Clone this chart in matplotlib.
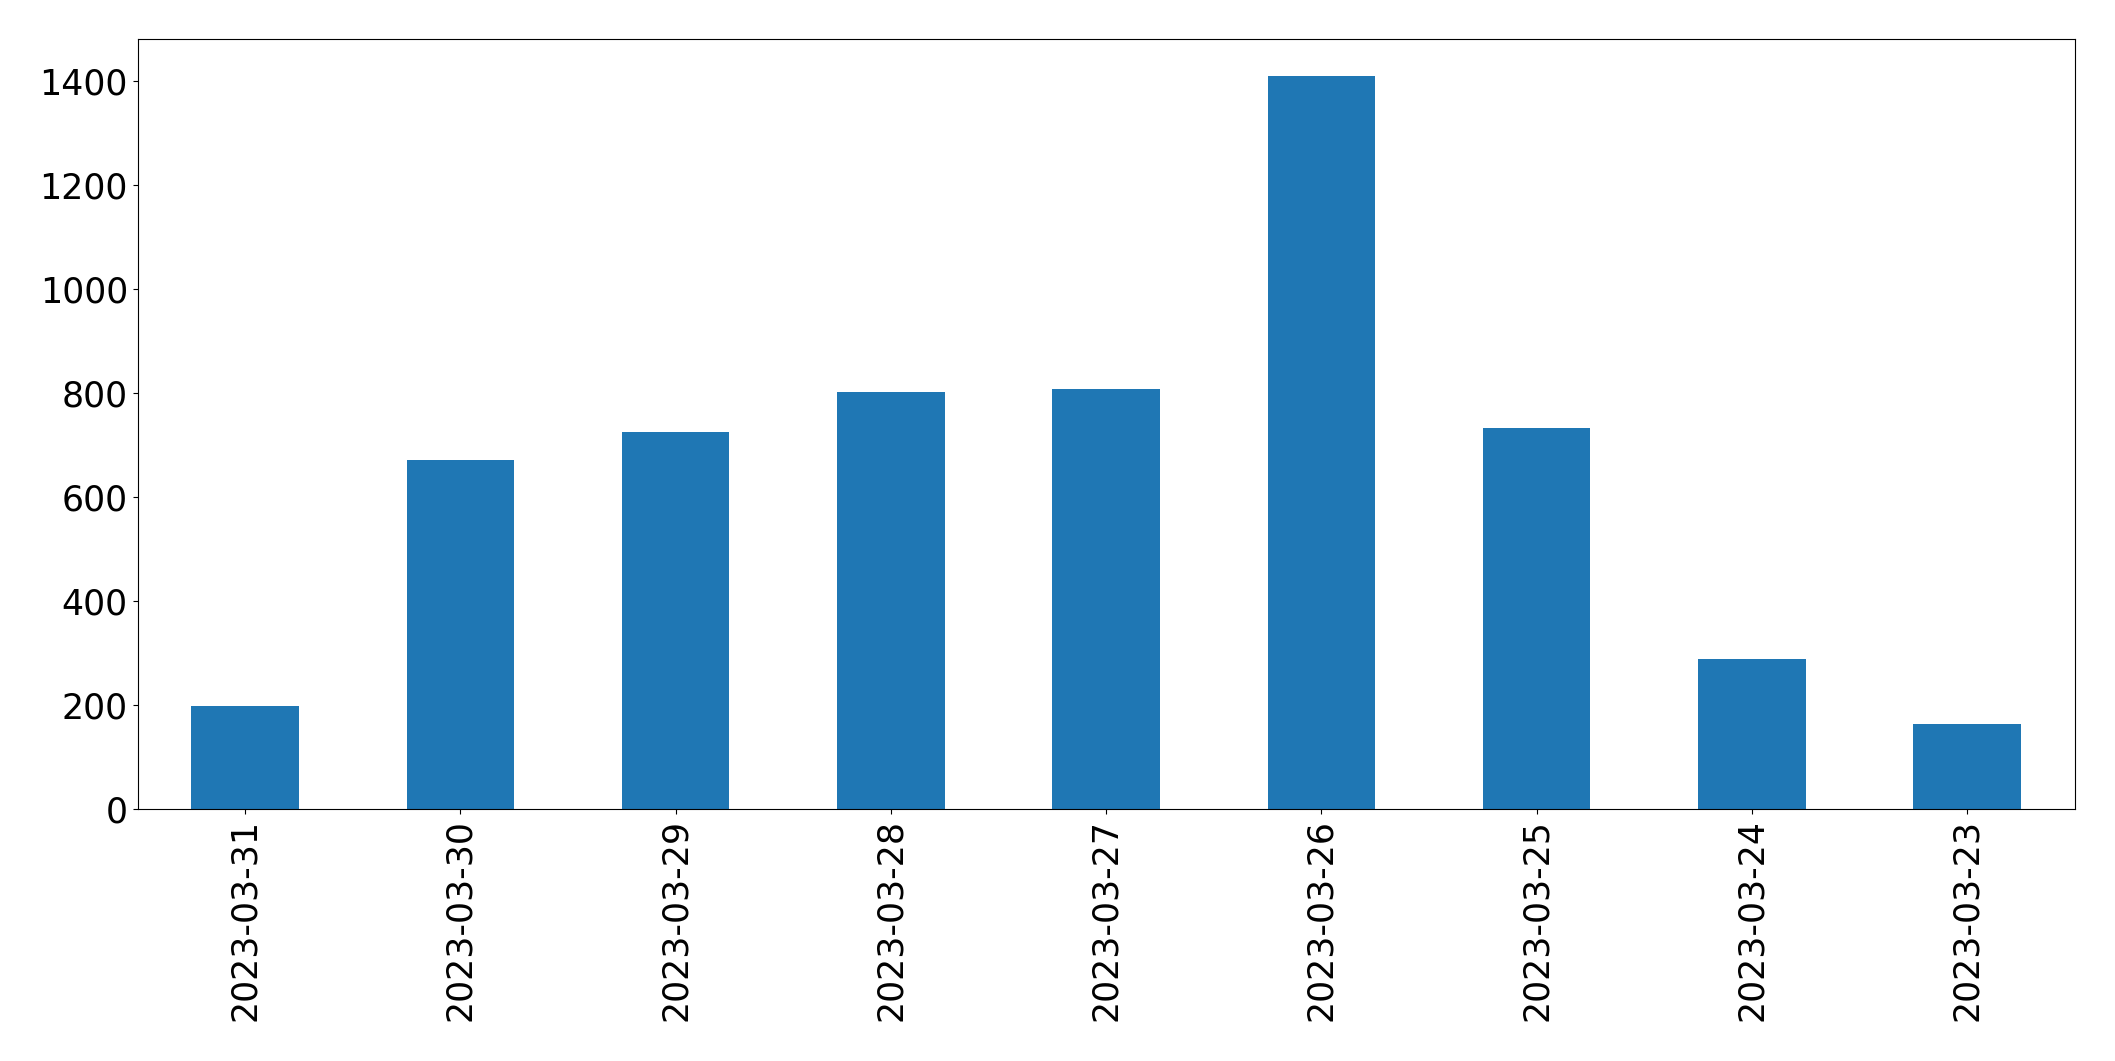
import matplotlib
matplotlib.use("Agg")
import matplotlib.pyplot as plt

dates = ["2023-03-31", "2023-03-30", "2023-03-29", "2023-03-28", "2023-03-27",
         "2023-03-26", "2023-03-25", "2023-03-24", "2023-03-23"]
counts = [199, 671, 725, 803, 807, 1410, 733, 289, 164]

W, H = 2115, 1061
left, right, top, bottom = 137.6, 2074.6, 39.1, 809.3
fig = plt.figure(figsize=(W / 100, H / 100), dpi=100)
ax = fig.add_axes([left / W, 1 - bottom / H, (right - left) / W, (bottom - top) / H])
x = list(range(len(dates)))
ax.bar(x, counts, width=0.5, color="#1f77b4")
ax.set_xlim(-0.5, len(dates) - 0.5)
ax.set_xticks(x)
ax.set_xticklabels(dates, rotation=90, fontsize=25)
ax.tick_params(axis="y", labelsize=25)
fig.savefig("out.png", dpi=100)
